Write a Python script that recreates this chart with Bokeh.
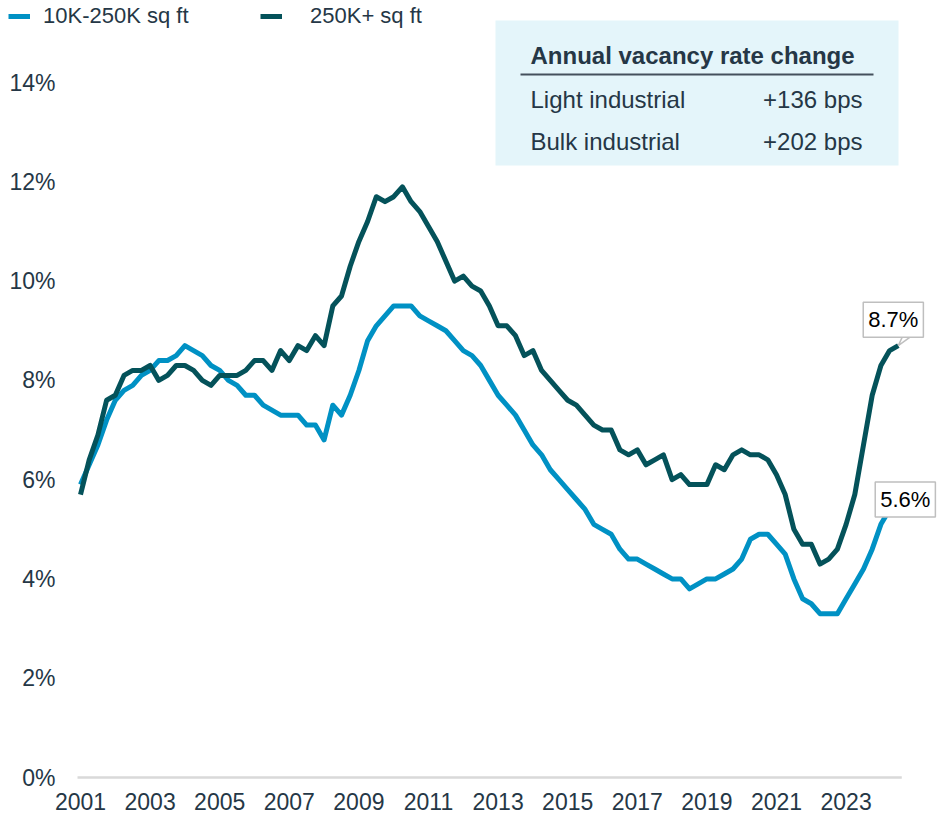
from bokeh.plotting import figure
from bokeh.models import (FixedTicker, PrintfTickFormatter, Legend, LegendItem,
                          Label, BoxAnnotation, ColumnDataSource, Range1d)
from bokeh.embed import file_html
from bokeh.resources import INLINE

# ---------------- data (quarterly, 2001Q1 .. 2024Q3) ----------------
first_year = 2001
light = [5.9, 6.3, 6.7, 7.2, 7.6, 7.8, 7.9, 8.1, 8.2, 8.4, 8.4, 8.5, 8.7, 8.6, 8.5, 8.3,
         8.2, 8.0, 7.9, 7.7, 7.7, 7.5, 7.4, 7.3, 7.3, 7.3, 7.1, 7.1, 6.8, 7.5, 7.3, 7.7,
         8.2, 8.8, 9.1, 9.3, 9.5, 9.5, 9.5, 9.3, 9.2, 9.1, 9.0, 8.8, 8.6, 8.5, 8.3, 8.0,
         7.7, 7.5, 7.3, 7.0, 6.7, 6.5, 6.2, 6.0, 5.8, 5.6, 5.4, 5.1, 5.0, 4.9, 4.6, 4.4,
         4.4, 4.3, 4.2, 4.1, 4.0, 4.0, 3.8, 3.9, 4.0, 4.0, 4.1, 4.2, 4.4, 4.8, 4.9, 4.9,
         4.7, 4.5, 4.0, 3.6, 3.5, 3.3, 3.3, 3.3, 3.6, 3.9, 4.2, 4.6, 5.1, 5.4, 5.6]
bulk = [5.7, 6.4, 6.9, 7.6, 7.7, 8.1, 8.2, 8.2, 8.3, 8.0, 8.1, 8.3, 8.3, 8.2, 8.0, 7.9,
        8.1, 8.1, 8.1, 8.2, 8.4, 8.4, 8.2, 8.6, 8.4, 8.7, 8.6, 8.9, 8.7, 9.5, 9.7, 10.3,
        10.8, 11.2, 11.7, 11.6, 11.7, 11.9, 11.6, 11.4, 11.1, 10.8, 10.4, 10.0, 10.1, 9.9, 9.8, 9.5,
        9.1, 9.1, 8.9, 8.5, 8.6, 8.2, 8.0, 7.8, 7.6, 7.5, 7.3, 7.1, 7.0, 7.0, 6.6, 6.5,
        6.6, 6.3, 6.4, 6.5, 6.0, 6.1, 5.9, 5.9, 5.9, 6.3, 6.2, 6.5, 6.6, 6.5, 6.5, 6.4,
        6.1, 5.7, 5.0, 4.7, 4.7, 4.3, 4.4, 4.6, 5.1, 5.7, 6.7, 7.7, 8.3, 8.6, 8.7]
series_names = ["10K-250K sq ft", "250K+ sq ft"]
tick_years = [2001, 2003, 2005, 2007, 2009, 2011, 2013, 2015, 2017, 2019, 2021, 2023]
y_ticks = [0, 2, 4, 6, 8, 10, 12, 14]
table_title = "Annual vacancy rate change"
table_rows = ["Light industrial", "Bulk industrial"]
table_vals = ["+136 bps", "+202 bps"]
end_labels = ["5.6%", "8.7%"]

quarter_x = [first_year + i / 4 for i in range(len(light))]

# ---------------- layout constants (page pixels) ----------------
W, H = 938, 819
X_FIRST_PX = 80        # pixel of the first quarter
ZERO_PX = 777          # pixel of 0 %
AXIS_LEFT_PX = 77      # where the plot area starts on the left
PX_YEAR = 34.8
PX_PCT = 49.64

def dx(px):
    return first_year + (px - X_FIRST_PX) / PX_YEAR

def dy(py):
    return (ZERO_PX - py) / PX_PCT

TXT = "#253746"
LIGHT = "#0091C4"
DARK = "#04525A"
BOXFILL = "#E4F5FA"
FONT = "Liberation Sans"

# frame covers the whole canvas; axes are pinned with fixed_location
p = figure(width=W, height=H, output_backend="svg", toolbar_location=None,
           x_range=Range1d(dx(0), dx(W)), y_range=Range1d(dy(H), dy(0)),
           min_border_left=0, min_border_right=0, min_border_top=0, min_border_bottom=0)
p.outline_line_color = None
p.xgrid.visible = False
p.ygrid.visible = False
p.background_fill_color = "white"
p.border_fill_color = "white"

# info table background
p.add_layout(BoxAnnotation(left=dx(495), right=dx(898), top=dy(20), bottom=dy(165),
                           fill_color=BOXFILL, fill_alpha=1, line_alpha=0, level="underlay"))

# zero baseline, from the plot's left edge to just past the last quarter
p.line([dx(AXIS_LEFT_PX), quarter_x[-1] + 0.1], [0, 0], line_color="#D9D9D9", line_width=2.5)

src = ColumnDataSource(dict(x=quarter_x, light=light, bulk=bulk))
r_light = p.line("x", "light", source=src, line_color=LIGHT, line_width=5, line_join="round")
r_bulk = p.line("x", "bulk", source=src, line_color=DARK, line_width=5, line_join="round")

p.xaxis.fixed_location = 0
p.xaxis.ticker = FixedTicker(ticks=tick_years)
p.xaxis.axis_line_color = None
p.xaxis.major_tick_line_color = None
p.xaxis.minor_tick_line_color = None
p.xaxis.major_tick_out = 0
p.xaxis.major_label_standoff = 15
p.xaxis.major_label_text_font = FONT
p.xaxis.major_label_text_font_size = "23px"
p.xaxis.major_label_text_color = TXT

p.yaxis.fixed_location = dx(AXIS_LEFT_PX)
p.yaxis.ticker = FixedTicker(ticks=y_ticks)
p.yaxis.formatter = PrintfTickFormatter(format="%d%%")
p.yaxis.axis_line_color = None
p.yaxis.major_tick_line_color = None
p.yaxis.minor_tick_line_color = None
p.yaxis.major_tick_out = 0
p.yaxis.major_label_standoff = 22
p.yaxis.major_label_text_font = FONT
p.yaxis.major_label_text_font_size = "23px"
p.yaxis.major_label_text_color = TXT

# legend: two entries placed as in the reference
for r, name, gx, standoff in [(r_light, series_names[0], 8, 13),
                              (r_bulk, series_names[1], 260, 28)]:
    p.add_layout(Legend(items=[LegendItem(label=name, renderers=[r])],
                        location=(gx, H - 29), orientation="horizontal",
                        glyph_width=22, glyph_height=16, label_height=16,
                        label_standoff=standoff, padding=0, margin=0,
                        border_line_color=None, background_fill_alpha=0,
                        label_text_font=FONT, label_text_font_size="22px",
                        label_text_color=TXT), "center")

# info table
p.add_layout(BoxAnnotation(left=dx(520), right=dx(873), top=dy(73), bottom=dy(75),
                           fill_color="#44505C", fill_alpha=1, line_alpha=0))
p.add_layout(Label(x=dx(530), y=dy(55), text=table_title, text_font=FONT,
                   text_font_style="bold", text_font_size="24px", text_color=TXT,
                   text_align="left", text_baseline="middle"))
for k, (row, val) in enumerate(zip(table_rows, table_vals)):
    yy = dy(99 + 42 * k)
    p.add_layout(Label(x=dx(530), y=yy, text=row, text_font=FONT, text_font_size="24px",
                       text_color=TXT, text_align="left", text_baseline="middle"))
    p.add_layout(Label(x=dx(862), y=yy, text=val, text_font=FONT, text_font_size="24px",
                       text_color=TXT, text_align="right", text_baseline="middle"))

# callout pointer for the bulk label (anchored at the last data point)
tip_x, tip_y = quarter_x[-1], bulk[-1]
p.patch([tip_x, tip_x + 6 / PX_YEAR, tip_x + 18 / PX_YEAR],
        [tip_y, tip_y + 13 / PX_PCT, tip_y + 13 / PX_PCT],
        fill_color="white", line_color="#BFBFBF", line_width=1.5)

p.add_layout(Label(x=quarter_x[-1], y=bulk[-1], text=end_labels[1], x_offset=-5, y_offset=26,
                   text_font=FONT, text_font_size="22px", text_color="black",
                   text_align="center", text_baseline="middle",
                   background_fill_color="white", border_line_color="#BFBFBF",
                   border_line_width=1.5, padding=5))
p.add_layout(Label(x=quarter_x[-1], y=light[-1], text=end_labels[0], x_offset=7, y_offset=0,
                   text_font=FONT, text_font_size="22px", text_color="black",
                   text_align="center", text_baseline="middle",
                   background_fill_color="white", border_line_color="#BFBFBF",
                   border_line_width=1.5, padding=5))

open("out.html", "w").write(file_html(p, INLINE))
